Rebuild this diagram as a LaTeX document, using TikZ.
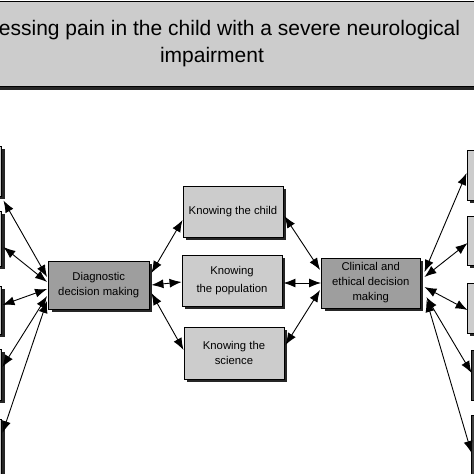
\documentclass[tikz,border=0pt]{standalone}
\usepackage{fontspec}
\setmainfont{Liberation Sans}
\usetikzlibrary{arrows.meta,shadows}
\definecolor{lightbox}{gray}{0.80}
\definecolor{midbox}{gray}{0.62}
\definecolor{titlefill}{gray}{0.80}
\tikzset{
  box/.style={draw=black, line width=0.9pt, rectangle, inner sep=0pt,
    align=center, font=\fontsize{11.3}{15}\selectfont,
    drop shadow={shadow xshift=3pt, shadow yshift=-3pt, fill=black!85, opacity=1}},
  knowbox/.style={box, fill=lightbox},
  decbox/.style={box, fill=midbox},
  edgebox/.style={box, fill=lightbox},
  darkedge/.style={box, fill=black!75},
  link/.style={line width=0.9pt, {Latex[length=12pt,width=9pt]}-{Latex[length=12pt,width=9pt]}}
}
\begin{document}
\begin{tikzpicture}[x=1pt,y=-1pt]
\useasboundingbox (0,0) rectangle (474,474);
\clip (0,0) rectangle (474,474);
% title
\node[box, fill=titlefill, minimum width=564pt, minimum height=85pt,
  font=\fontsize{21}{27}\selectfont] (title) at (212,44)
  {Assessing pain in the child with a severe neurological\\impairment};
% left edge boxes
\node[edgebox, minimum width=61pt, minimum height=50pt] (L1) at (-29,171) {};
\node[edgebox, minimum width=61pt, minimum height=55pt] (L2) at (-29,238.5) {};
\node[edgebox, minimum width=61pt, minimum height=48pt] (L3) at (-29,310) {};
\node[edgebox, minimum width=61pt, minimum height=51pt] (L4) at (-29,374.5) {};
\node[edgebox, minimum width=61pt, minimum height=61pt] (L5) at (-29,449.5) {};
% right edge boxes
\node[edgebox, minimum width=61pt, minimum height=50pt] (R1) at (497.5,175) {};
\node[edgebox, minimum width=61pt, minimum height=49pt] (R2) at (497.5,240.5) {};
\node[edgebox, minimum width=61pt, minimum height=50pt] (R3) at (497.5,308) {};
\node[darkedge, minimum width=61pt, minimum height=50pt] (R4) at (502,375) {};
\node[darkedge, minimum width=61pt, minimum height=65pt] (R5) at (502,447.5) {};
% main boxes
\node[decbox, minimum width=100.5pt, minimum height=48pt] (diag) at (98.75,285)
  {Diagnostic\\decision making};
\node[decbox, minimum width=98.5pt, minimum height=50pt] (clin) at (370.75,283)
  {Clinical and\\ethical decision\\making};
\node[knowbox, minimum width=100pt, minimum height=51pt] (child) at (233,211.5)
  {Knowing the child};
\node[knowbox, minimum width=100pt, minimum height=51pt] (pop) at (232,280.5)
  {Knowing\\[3pt]the population};
\node[knowbox, minimum width=100pt, minimum height=52pt] (sci) at (234,353)
  {Knowing the\\science};
% left arrows
\draw[link] ([shift={(-1,-8)}]diag.west) -- ([shift={(1.5,4)}]L1.south east);
\draw[link] ([shift={(-1,-3)}]diag.west) -- ([shift={(1.5,8.5)}]L2.east);
\draw[link] ([shift={(-1,4)}]diag.west) -- ([shift={(0.5,-5)}]L3.east);
\draw[link] ([shift={(-1,11)}]diag.west) -- ([shift={(0.5,-7.5)}]L4.east);
\draw[link] ([shift={(-1,16)}]diag.west) -- ([shift={(0.5,-16.5)}]L5.east);
% middle arrows
\draw[link] ([shift={(2,-12)}]diag.east) -- ([shift={(0,8.5)}]child.west);
\draw[link] ([shift={(2,0)}]diag.east) -- ([shift={(0,1.5)}]pop.west);
\draw[link] ([shift={(2,8)}]diag.east) -- ([shift={(0,-3)}]sci.west);
\draw[link] ([shift={(1,4.5)}]child.east) -- ([shift={(-1,-13)}]clin.west);
\draw[link] ([shift={(1,2.5)}]pop.east) -- (clin.west);
\draw[link] ([shift={(1,-8)}]sci.east) -- ([shift={(-1,7)}]clin.west);
% right arrows
\draw[link] ([shift={(4,-11)}]clin.east) -- ([shift={(0,-2)}]R1.west);
\draw[link] ([shift={(4,-6)}]clin.east) -- ([shift={(1,2.5)}]R2.west);
\draw[link] ([shift={(4,4)}]clin.east) -- ([shift={(1,2)}]R3.west);
\draw[link] ([shift={(6,14)}]clin.east) -- ([shift={(0.5,-2)}]R4.west);
\draw[link] ([shift={(6,17)}]clin.east) -- ([shift={(0.5,5.5)}]R5.west);
\end{tikzpicture}
\end{document}
